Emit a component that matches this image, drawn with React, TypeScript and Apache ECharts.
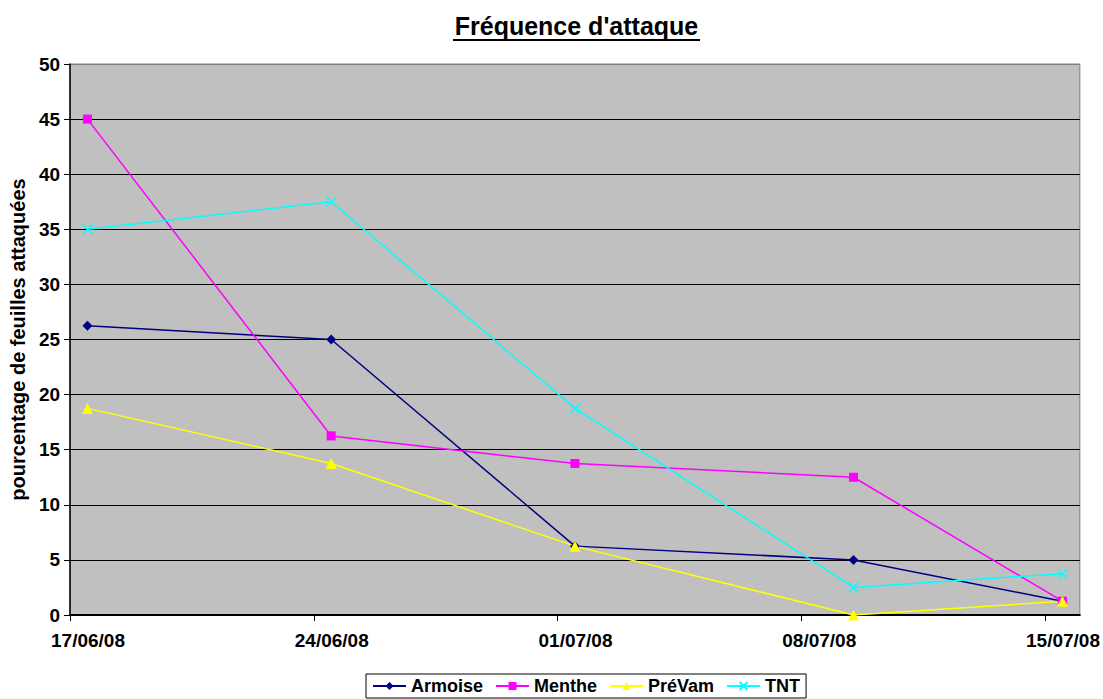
import React, { useEffect, useRef } from "react";
import * as echarts from "echarts";

const axisStart = "17/06/08";
const axisDays = 29;
const tickDays = [0, 7, 14, 21, 28];
const dates = ["17/06/08", "24/06/08", "01/07/08", "09/07/08", "15/07/08"];
const armoise = [26.25, 25, 6.25, 5, 1.25];
const menthe = [45, 16.25, 13.75, 12.5, 1.25];
const prevam = [18.75, 13.75, 6.25, 0, 1.25];
const tnt = [35, 37.5, 18.75, 2.5, 3.75];
const seriesNames = ["Armoise", "Menthe", "PréVam", "TNT"];
const yMax = 50;
const yStep = 5;

const parseDate = (s: string) => {
  const [d, m, y] = s.split("/").map(Number);
  return Date.UTC(2000 + y, m - 1, d);
};
const DAY = 86400000;
const start = parseDate(axisStart);
const dayIndex = (s: string) => (parseDate(s) - start) / DAY + 0.5;
const fmt = (v: number) => {
  const d = new Date(start + v * DAY);
  const p = (n: number) => String(n).padStart(2, "0");
  return `${p(d.getUTCDate())}/${p(d.getUTCMonth() + 1)}/${p(d.getUTCFullYear() % 100)}`;
};

export default function App() {
  const ref = useRef<HTMLDivElement>(null);
  useEffect(() => {
    if (!ref.current) return;
    const chart = echarts.init(ref.current, null, { renderer: "svg" });
    const font = "Liberation Sans, Arial, sans-serif";
    const mk = (vals: number[]) => vals.map((v, i) => [dayIndex(dates[i]), v]);
    const nLines = yMax / yStep + 1;
    const splitColors = Array.from({ length: nLines }, (_, i) =>
      i === 0 || i === nLines - 1 ? "#808080" : "#000000"
    );
    const styles = [
      { color: "#000080", symbol: "diamond", size: 10 },
      { color: "#FF00FF", symbol: "rect", size: 9 },
      { color: "#FFFF00", symbol: "triangle", size: 11 },
      { color: "#00FFFF", symbol: "path://M0,0L10,10M10,0L0,10", size: 10 },
    ];
    const datas = [armoise, menthe, prevam, tnt];
    chart.setOption({
      animation: false,
      backgroundColor: "#ffffff",
      textStyle: { fontFamily: font },
      graphic: [
        {
          type: "text",
          x: 576.5,
          y: 26,
          style: {
            text: "Fréquence d'attaque",
            font: `bold 25px ${font}`,
            fill: "#000",
            textAlign: "center",
            textVerticalAlign: "middle",
          },
        },
        {
          type: "line",
          shape: { x1: 453, y1: 40, x2: 700, y2: 40 },
          style: { stroke: "#000", lineWidth: 2 },
        },
      ],
      grid: {
        left: 70,
        right: 20,
        top: 64,
        bottom: 84,
        show: true,
        backgroundColor: "#C0C0C0",
        borderColor: "#808080",
        borderWidth: 1,
      },
      legend: {
        left: 366,
        top: 674,
        itemGap: 12,
        itemWidth: 33,
        itemHeight: 10,
        padding: [3, 6, 3, 6],
        borderColor: "#000",
        borderWidth: 1,
        borderRadius: 0,
        textStyle: { fontSize: 18, fontWeight: "bold", color: "#000", fontFamily: font },
        data: seriesNames,
      },
      xAxis: {
        type: "value",
        min: 0,
        max: axisDays,
        interval: 7,
        axisLine: { show: true, onZero: false, lineStyle: { color: "#000", width: 2 } },
        axisTick: {
          show: true,
          inside: false,
          length: 6,
          customValues: tickDays,
          lineStyle: { color: "#000" },
        },
        axisLabel: {
          customValues: tickDays,
          formatter: (v: number) => fmt(v),
          fontSize: 19,
          fontWeight: "bold",
          color: "#000",
          fontFamily: font,
          margin: 16,
          padding: [0, 0, 0, 36],
        },
        splitLine: { show: false },
      },
      yAxis: {
        type: "value",
        min: 0,
        max: yMax,
        interval: yStep,
        name: "pourcentage de feuilles attaquées",
        nameLocation: "middle",
        nameGap: 42,
        nameTextStyle: { fontSize: 20, fontWeight: "bold", color: "#000", fontFamily: font },
        axisLine: { show: true, lineStyle: { color: "#000", width: 1.5 } },
        axisTick: { show: true, length: 6, lineStyle: { color: "#000" } },
        axisLabel: {
          fontSize: 19,
          fontWeight: "bold",
          color: "#000",
          fontFamily: font,
          margin: 10,
        },
        splitLine: { show: true, lineStyle: { color: splitColors, width: 1 } },
      },
      series: seriesNames.map((name, i) => ({
        name,
        type: "line",
        data: mk(datas[i]),
        symbol: styles[i].symbol,
        symbolSize: styles[i].size,
        showAllSymbol: true,
        lineStyle: { color: styles[i].color, width: 1.5 },
        itemStyle:
          i === 3
            ? { color: styles[i].color, borderColor: styles[i].color, borderWidth: 1.5 }
            : { color: styles[i].color, borderWidth: 0 },
        emphasis: { disabled: true },
      })),
    });
    return () => chart.dispose();
  }, []);
  return <div ref={ref} style={{ width: 1103, height: 699, position: "absolute", left: 0, top: 0 }} />;
}
